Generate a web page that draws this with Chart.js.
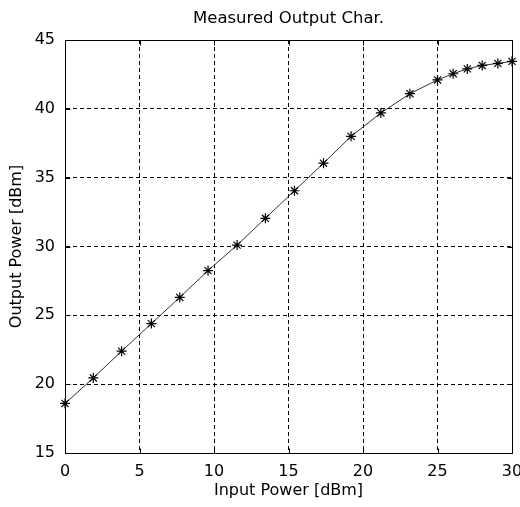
<!DOCTYPE html>
<html>
<head>
<meta charset="utf-8">
<script src="https://cdn.jsdelivr.net/npm/chart.js@4"></script>
<style>
  html, body { margin: 0; padding: 0; background: #fff; }
  canvas { display: block; }
</style>
</head>
<body>
<canvas id="chart" width="520" height="507"></canvas>
<script>
// measured points
const inputPower = [0, 1.9, 3.8, 5.8, 7.7, 9.6, 11.55, 13.45, 15.4, 17.35, 19.2, 21.2, 23.15, 25.0, 26.05, 27.0, 28.0, 29.05, 30.0];
const outputPower = [18.6, 20.45, 22.4, 24.4, 26.3, 28.25, 30.1, 32.05, 34.05, 36.05, 38.0, 39.7, 41.1, 42.1, 42.55, 42.9, 43.15, 43.3, 43.45];

const xTicks = [0, 5, 10, 15, 20, 25, 30];
const yTicks = [15, 20, 25, 30, 35, 40, 45];

const FONT = 'DejaVu Sans';

// solid box round the axes plus short inward ticks, like matlab
const boxPlugin = {
    id: 'box',
    afterDraw(chart) {
        const { ctx, chartArea: a, scales } = chart;
        const l = Math.round(a.left) + 0.5, r = Math.round(a.right) + 0.5;
        const t = Math.round(a.top) + 0.5, b = Math.round(a.bottom) + 0.5;
        ctx.save();
        ctx.strokeStyle = '#000';
        ctx.lineWidth = 1;
        ctx.beginPath();
        ctx.rect(l, t, r - l, b - t);
        scales.x.ticks.forEach(tk => {
            const x = Math.round(scales.x.getPixelForValue(tk.value)) + 0.5;
            ctx.moveTo(x, b); ctx.lineTo(x, b - 5);
            ctx.moveTo(x, t); ctx.lineTo(x, t + 5);
        });
        scales.y.ticks.forEach(tk => {
            const y = Math.round(scales.y.getPixelForValue(tk.value)) + 0.5;
            ctx.moveTo(l, y); ctx.lineTo(l + 5, y);
            ctx.moveTo(r, y); ctx.lineTo(r - 5, y);
        });
        ctx.stroke();
        ctx.restore();
    }
};

new Chart(document.getElementById('chart'), {
    type: 'scatter',
    data: {
        datasets: [{
            data: inputPower.map((x, i) => ({ x: x, y: outputPower[i] })),
            showLine: true,
            borderColor: '#333',
            borderWidth: 1,
            tension: 0,
            pointStyle: 'star',
            pointRadius: 5,
            pointBorderColor: '#000',
            pointBorderWidth: 1.2,
            clip: false
        }]
    },
    options: {
        responsive: false,
        animation: false,
        devicePixelRatio: 1,
        layout: { padding: { left: 0, right: 8, top: 0, bottom: 0 } },
        plugins: {
            legend: { display: false },
            tooltip: { enabled: false },
            title: {
                display: true,
                text: 'Measured Output Char.',
                fullSize: false,
                color: '#000',
                font: { family: FONT, size: 16.5, weight: 'normal' },
                padding: { top: 9, bottom: 11.2 }
            }
        },
        scales: {
            x: {
                type: 'linear',
                min: 0,
                max: 30,
                afterBuildTicks: s => { s.ticks = xTicks.map(v => ({ value: v })); },
                afterFit: s => { s.height = 54; s.paddingLeft = 0; s.paddingRight = 0; },
                grid: { color: '#000', lineWidth: 1, drawTicks: false },
                border: { display: true, color: '#000', width: 1, dash: [4, 3] },
                ticks: { color: '#000', padding: 9, font: { family: FONT, size: 16 } },
                title: {
                    display: true,
                    text: 'Input Power [dBm]',
                    color: '#000',
                    font: { family: FONT, size: 16 },
                    padding: { top: 0, bottom: 7 }
                }
            },
            y: {
                type: 'linear',
                min: 15,
                max: 45,
                afterBuildTicks: s => { s.ticks = yTicks.map(v => ({ value: v })); },
                afterFit: s => { s.width = 65; },
                grid: { color: '#000', lineWidth: 1, drawTicks: false },
                border: { display: true, color: '#000', width: 1, dash: [4, 3] },
                ticks: { color: '#000', padding: 10, font: { family: FONT, size: 16 } },
                title: {
                    display: true,
                    text: 'Output Power [dBm]',
                    color: '#000',
                    font: { family: FONT, size: 16 },
                    padding: { top: 7, bottom: 0 }
                }
            }
        }
    },
    plugins: [boxPlugin]
});
</script>
</body>
</html>
